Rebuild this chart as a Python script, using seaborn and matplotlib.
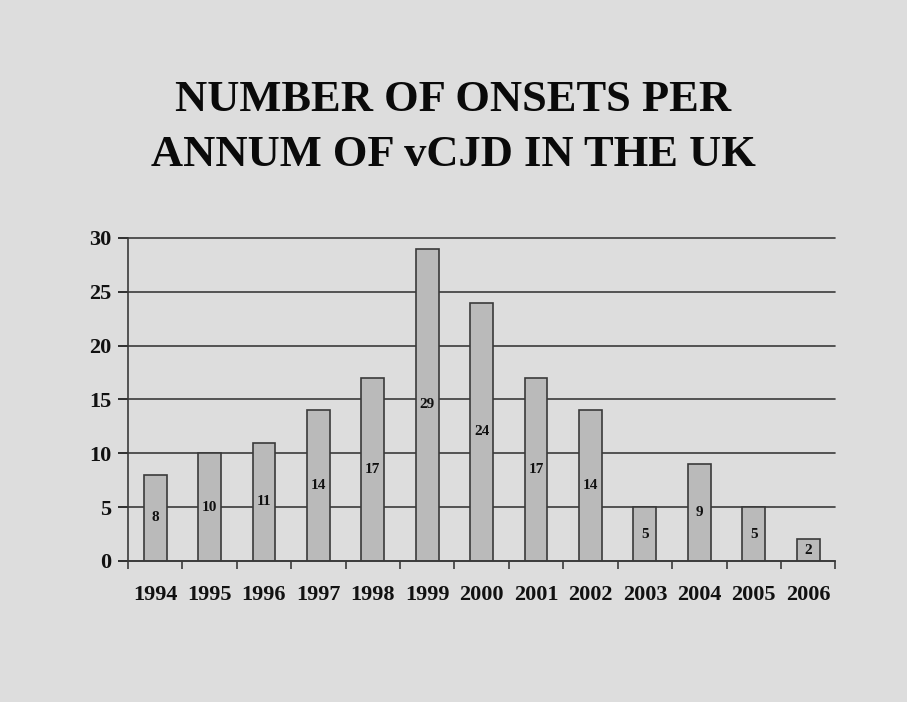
import matplotlib
matplotlib.use("Agg")
import matplotlib.pyplot as plt
import seaborn as sns
import pandas as pd
import numpy as np

years = ["1994", "1995", "1996", "1997", "1998", "1999", "2000",
         "2001", "2002", "2003", "2004", "2005", "2006"]
onsets = [8, 10, 11, 14, 17, 29, 24, 17, 14, 5, 9, 5, 2]
y_ticks = [0, 5, 10, 15, 20, 25, 30]
title_lines = ["NUMBER OF ONSETS PER", "ANNUM OF vCJD IN THE UK"]

sns.set_theme(style="white")
plt.rcParams["font.family"] = ["Liberation Serif", "DejaVu Serif"]

bg = "#dddddd"
ink = "#111111"
line_col = "#3a3a3a"
df = pd.DataFrame({"year": years, "onsets": onsets})

fig = plt.figure(figsize=(9.07, 7.02), dpi=100, facecolor=bg)
ax = fig.add_axes([0.141, 0.2009, 0.780, 0.4601])
ax.set_facecolor(bg)

sns.barplot(data=df, x="year", y="onsets", order=years, color="#bababa",
            width=0.42, edgecolor=line_col, linewidth=1.2, saturation=1,
            ax=ax, zorder=3)

ax.set_ylim(0, 30)
ax.set_xlim(-0.5, len(years) - 0.5)
ax.set_yticks(y_ticks)
ax.set_yticklabels([str(t) for t in y_ticks], fontsize=16, fontweight="bold")
ax.yaxis.grid(True, color=line_col, linewidth=1.2, zorder=1)
ax.set_axisbelow(True)
for gl in ax.get_ygridlines():
    gl.set_clip_on(False)

# category labels centred under the bars, tick marks at the category edges
ax.set_xticks(range(len(years)))
ax.set_xticklabels(years, fontsize=16, fontweight="bold")
ax.tick_params(axis="x", length=0, pad=17, colors=ink)
ax.set_xticks(np.arange(-0.5, len(years)), minor=True)
ax.tick_params(axis="x", which="minor", length=6, width=1.2, color=line_col,
               direction="out", bottom=True)
ax.tick_params(axis="y", length=7, width=1.2, direction="out",
               left=True, pad=5, colors=ink)
for t in ax.get_yticklines():
    t.set_color(line_col)

ax.set_xlabel("")
ax.set_ylabel("")
for side in ("top", "right"):
    ax.spines[side].set_visible(False)
for side in ("left", "bottom"):
    ax.spines[side].set_color(line_col)
    ax.spines[side].set_linewidth(1.2)
    ax.spines[side].set_zorder(4)

# value labels at mid-height of each bar
for i, v in enumerate(onsets):
    ax.text(i, v / 2, str(v), ha="center", va="center", fontsize=11,
            fontweight="bold", color=ink, zorder=5)

for y, line in zip([0.857, 0.779], title_lines):
    fig.text(0.5, y, line, ha="center", va="center", fontsize=32,
             fontweight="bold", color="#0a0a0a")

fig.savefig("out.png", dpi=100, facecolor=bg)
